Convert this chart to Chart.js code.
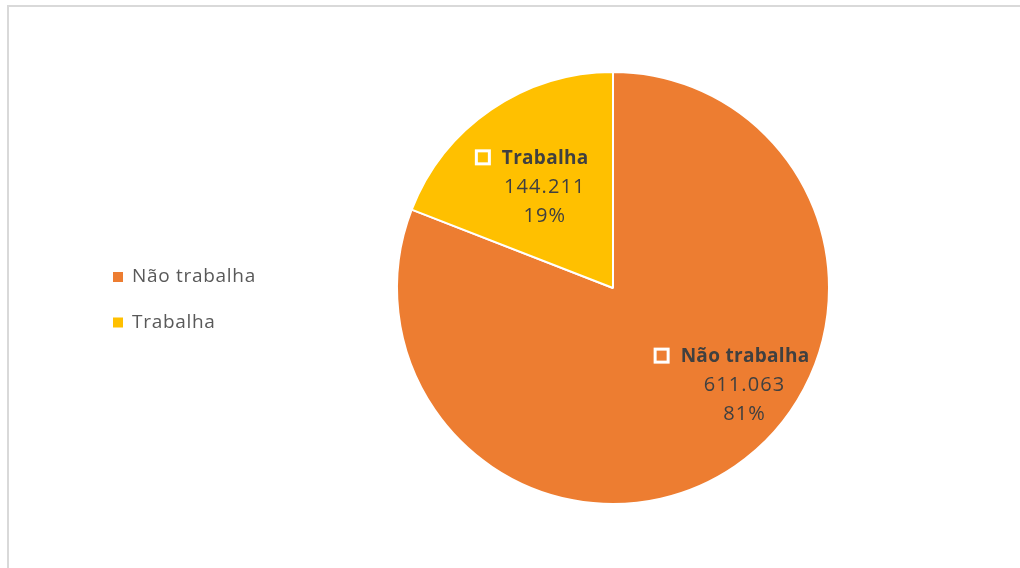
<!DOCTYPE html>
<html lang="pt-BR">
<head>
<meta charset="utf-8">
<title>Trabalha / Não trabalha</title>
<script src="https://cdn.jsdelivr.net/npm/chart.js@4/dist/chart.umd.min.js"></script>
<style>
  html, body { margin: 0; padding: 0; background: #ffffff; }
  #wrap { position: relative; width: 1020px; height: 568px; overflow: hidden; }
  #frame {
    position: absolute; left: 7px; top: 5px; width: 1100px; height: 700px;
    border-top: 2px solid #d9d9d9; border-left: 2px solid #d9d9d9; box-sizing: border-box;
  }
  canvas { position: absolute; left: 0; top: 0; }
</style>
</head>
<body>
<div id="wrap">
  <div id="frame"></div>
  <canvas id="chart" width="1020" height="568"></canvas>
</div>
<script>
// Categories and values (people)
const categories = ['Não trabalha', 'Trabalha'];
const values = [611063, 144211];
const sliceColors = ['#ED7D31', '#FFC000'];

// Where each data label block sits, as a fraction of the radius from the pie centre
const labelAnchors = [[0.609, 0.452], [-0.316, -0.466]];

const FONT = '"Open Sans", "Noto Sans", sans-serif';

function formatThousands(n) {
  return String(n).replace(/\B(?=(\d{3})+(?!\d))/g, '.');
}

// Data labels: category (bold, with a small white square), value, percentage
const sliceLabels = {
  id: 'sliceLabels',
  afterDatasetsDraw(chart) {
    const ctx = chart.ctx;
    const meta = chart.getDatasetMeta(0);
    const total = values.reduce((a, b) => a + b, 0);
    meta.data.forEach((arc, i) => {
      const r = arc.outerRadius;
      const cx = arc.x + labelAnchors[i][0] * r;
      const cy = arc.y + labelAnchors[i][1] * r;
      const lineH = 29;
      ctx.save();
      ctx.fillStyle = '#404040';
      ctx.textBaseline = 'middle';
      ctx.textAlign = 'center';
      ctx.font = '20px ' + FONT;
      ctx.letterSpacing = '1.1px';
      ctx.fillText(formatThousands(values[i]), cx, cy);
      ctx.fillText(Math.round(values[i] / total * 100) + '%', cx, cy + lineH);

      // title line: marker square + bold category name, centred as one unit
      ctx.font = 'bold 19px ' + FONT;
      ctx.letterSpacing = '0.3px';
      const tw = ctx.measureText(categories[i]).width;
      const S = 16, gap = 11;
      const lineW = S + gap + tw;
      const tx = cx - 13 - lineW / 2;
      const ty = cy - lineH;
      ctx.strokeStyle = '#ffffff';
      ctx.lineWidth = 3;
      ctx.strokeRect(tx + 1.5, ty - S / 2 - 1 + 1.5, S - 3, S - 3);
      ctx.textAlign = 'left';
      ctx.fillText(categories[i], tx + S + gap, ty);
      ctx.restore();
    });
  }
};

// Legend on the left side
const sideLegend = {
  id: 'sideLegend',
  afterDraw(chart) {
    const ctx = chart.ctx;
    ctx.save();
    ctx.font = '19px ' + FONT;
    ctx.letterSpacing = '0.7px';
    ctx.textBaseline = 'middle';
    ctx.textAlign = 'left';
    categories.forEach((name, i) => {
      const y = 277 + i * 45.5;
      ctx.fillStyle = sliceColors[i];
      ctx.fillRect(113, y - 5, 10, 10);
      ctx.fillStyle = '#595959';
      ctx.fillText(name, 132, y);
    });
    ctx.restore();
  }
};

new Chart(document.getElementById('chart'), {
  type: 'pie',
  data: {
    labels: categories,
    datasets: [{
      data: values,
      backgroundColor: sliceColors,
      borderColor: '#ffffff',
      borderWidth: 2
    }]
  },
  options: {
    responsive: false,
    animation: false,
    layout: { padding: { left: 396, right: 190, top: 71, bottom: 63 } },
    plugins: {
      legend: { display: false },
      tooltip: { enabled: false }
    }
  },
  plugins: [sliceLabels, sideLegend]
});
</script>
</body>
</html>
